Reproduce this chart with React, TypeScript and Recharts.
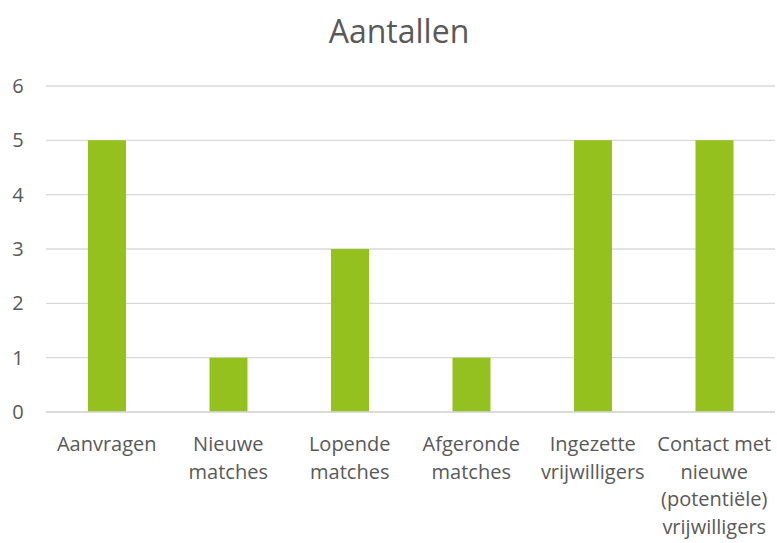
import React from "react";
import { BarChart, Bar, XAxis, YAxis, CartesianGrid } from "recharts";

const categories = [
  "Aanvragen",
  "Nieuwe matches",
  "Lopende matches",
  "Afgeronde matches",
  "Ingezette vrijwilligers",
  "Contact met nieuwe (potentiële) vrijwilligers",
];
const values = [5, 1, 3, 1, 5, 5];
const tickLabelLines = [
  ["Aanvragen"],
  ["Nieuwe", "matches"],
  ["Lopende", "matches"],
  ["Afgeronde", "matches"],
  ["Ingezette", "vrijwilligers"],
  ["Contact met", "nieuwe", "(potentiële)", "vrijwilligers"],
];
const yTicks = [0, 1, 2, 3, 4, 5, 6];
const title = "Aantallen";

const data = categories.map((c, i) => ({ name: c, value: values[i], idx: i }));

const FONT = "'Open Sans', sans-serif";
const TEXT = "#595959";

const XTick = (props: any) => {
  const { x, y, index } = props;
  const lines = tickLabelLines[index] || [];
  return (
    <text x={x} y={y} textAnchor="middle" fill={TEXT} fontFamily={FONT} fontSize={20}>
      {lines.map((l, i) => (
        <tspan key={i} x={x} y={y + 39 + i * 27.7}>
          {l}
        </tspan>
      ))}
    </text>
  );
};

const YTick = (props: any) => {
  const { y, payload } = props;
  return (
    <text x={18} y={y + 7} textAnchor="middle" fill={TEXT} fontFamily={FONT} fontSize={20}>
      {payload.value}
    </text>
  );
};

export default function App() {
  return (
    <div style={{ position: "absolute", left: 0, top: 0, width: 777, height: 543, background: "#fff" }}>
      <svg width={777} height={543} style={{ position: "absolute", left: 0, top: 0 }}>
        <text x={399} y={43} textAnchor="middle" fill={TEXT} fontFamily={FONT} fontSize={32}>
          {title}
        </text>
      </svg>
      <div style={{ position: "absolute", left: 0, top: 0 }}>
        <BarChart
          width={777}
          height={543}
          data={data}
          margin={{ top: 86, right: 2, left: 0, bottom: 0 }}
        >
          <CartesianGrid vertical={false} stroke="#d9d9d9" strokeWidth={1.3} />
          <XAxis
            dataKey="name"
            interval={0}
            tickLine={false}
            tickSize={0}
            tickMargin={0}
            axisLine={{ stroke: "#d9d9d9", strokeWidth: 1.3 }}
            tick={<XTick />}
            height={131}
          />
          <YAxis
            domain={[0, 6]}
            ticks={yTicks}
            interval={0}
            axisLine={false}
            tickLine={false}
            width={46}
            tick={<YTick />}
          />
          <Bar dataKey="value" fill="#95c11f" barSize={38} isAnimationActive={false} />
        </BarChart>
      </div>
    </div>
  );
}
